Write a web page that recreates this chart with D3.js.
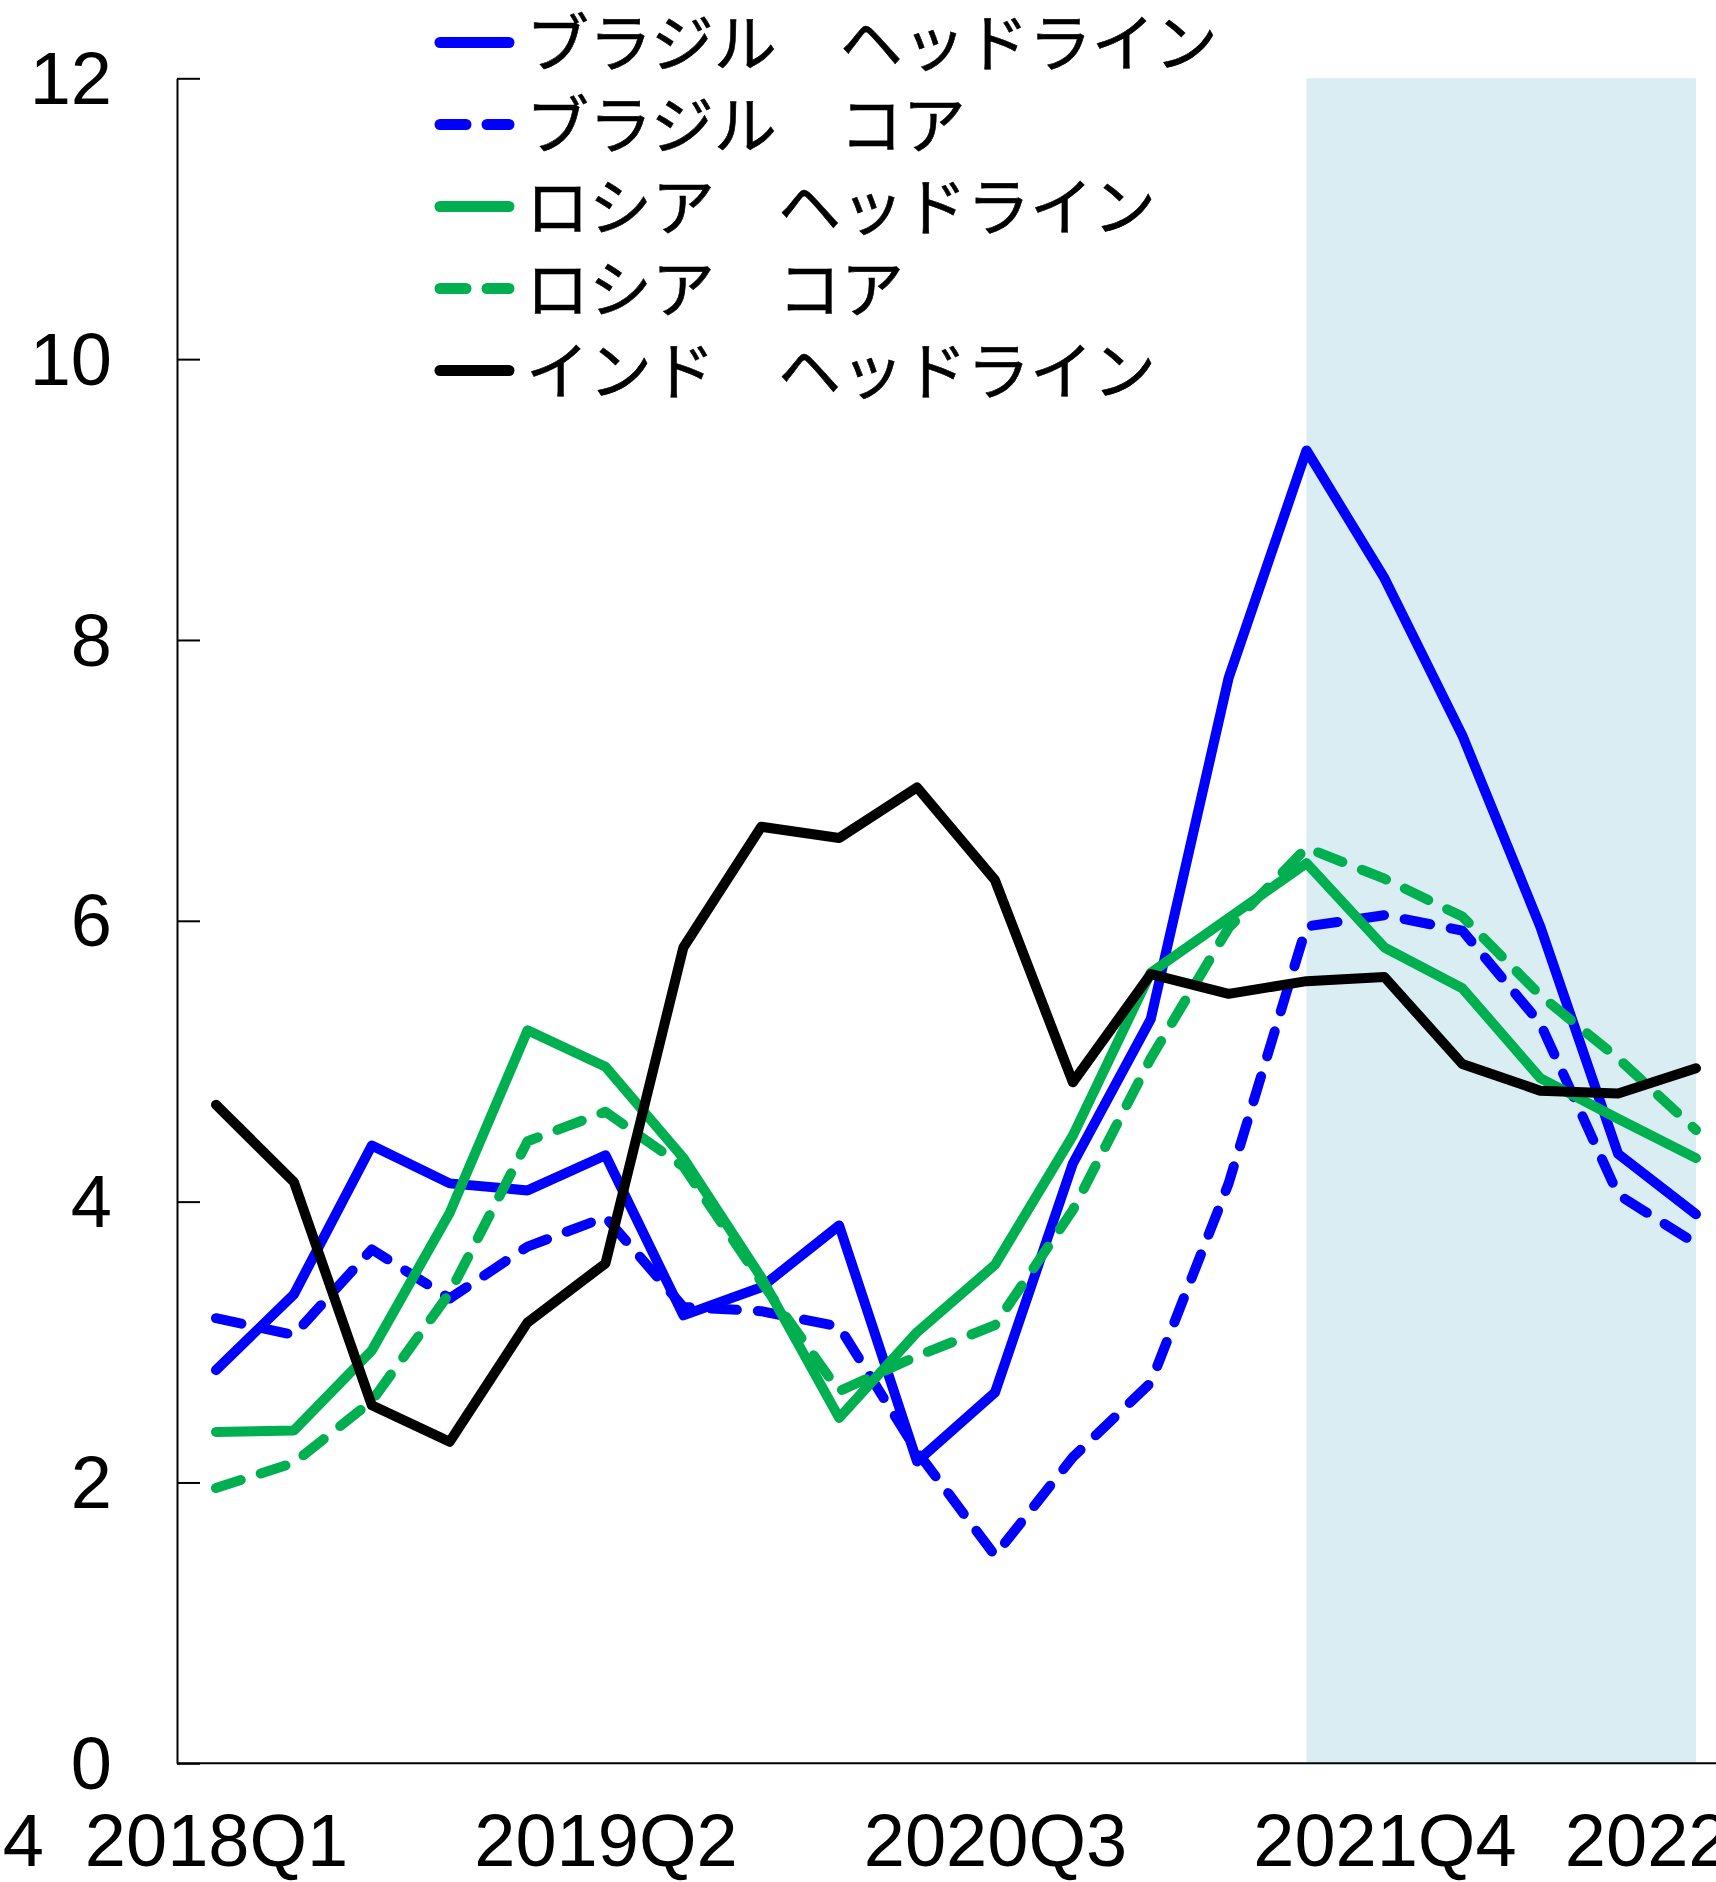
<!DOCTYPE html>
<html>
<head>
<meta charset="utf-8">
<script src="https://cdn.jsdelivr.net/npm/d3@7"></script>
<style>
  html, body { margin: 0; padding: 0; background: #ffffff; }
  svg { display: block; }
</style>
</head>
<body>
<svg id="chart" width="1716" height="1882"></svg>
<script>
// Quarterly inflation, year-on-year (%)
const categories = [
  "2018Q1","2018Q2","2018Q3","2018Q4",
  "2019Q1","2019Q2","2019Q3","2019Q4",
  "2020Q1","2020Q2","2020Q3","2020Q4",
  "2021Q1","2021Q2","2021Q3","2021Q4",
  "2022Q1","2022Q2","2022Q3","2022Q4"
];

const brazilHeadline = [2.80, 3.34, 4.40, 4.13, 4.08, 4.33, 3.19, 3.39, 3.83, 2.15,
                        2.64, 4.27, 5.30, 7.73, 9.35, 8.44, 7.32, 5.96, 4.34, 3.91];
const brazilCore     = [3.17, 3.05, 3.66, 3.31, 3.68, 3.89, 3.25, 3.22, 3.11, 2.22,
                        1.48, 2.18, 2.71, 4.13, 5.96, 6.04, 5.93, 5.27, 4.05, 3.70];
const russiaHeadline = [2.36, 2.37, 2.94, 3.92, 5.22, 4.96, 4.31, 3.46, 2.46, 3.07,
                        3.55, 4.47, 5.63, 6.02, 6.41, 5.81, 5.52, 4.88, 4.59, 4.31];
const russiaCore     = [1.96, 2.14, 2.58, 3.35, 4.43, 4.64, 4.25, 3.43, 2.65, 2.90,
                        3.12, 3.94, 5.02, 5.95, 6.52, 6.30, 6.03, 5.47, 5.02, 4.51];
const indiaHeadline  = [4.69, 4.14, 2.55, 2.29, 3.14, 3.56, 5.81, 6.67, 6.59, 6.95,
                        6.29, 4.85, 5.62, 5.48, 5.57, 5.60, 4.98, 4.79, 4.77, 4.95];

const seriesNames  = ["ブラジル　ヘッドライン", "ブラジル　コア", "ロシア　ヘッドライン", "ロシア　コア", "インド　ヘッドライン"];
const seriesValues = [brazilHeadline, brazilCore, russiaHeadline, russiaCore, indiaHeadline];
const seriesColors = ["#0000FF", "#0000FF", "#00B050", "#00B050", "#000000"];
const seriesDashed = [false, true, false, true, false];

const yTickValues  = [0, 2, 4, 6, 8, 10, 12];
const xTickLabels  = ["2018Q1", "2019Q2", "2020Q3", "2021Q4", "2022Q4"];
const shadedPeriod = ["2021Q3", "2022Q4"];
const spillLabel   = "2022Q4";   // label of the neighbouring panel reaching into the left edge

// ---- layout ----
const svg = d3.select("#chart");
const W = 1716, H = 1882;
const axisX = 177, yTop = 78.3, yBottom = 1763.3;
const labelBaseline = 1866;
const x = d3.scalePoint().domain(categories).range([216, 1696]);
const y = d3.scaleLinear().domain([0, 12]).range([yBottom, yTop]);

svg.append("rect").attr("width", W).attr("height", H).attr("fill", "#ffffff");

// shaded window
svg.append("rect")
  .attr("x", x(shadedPeriod[0]))
  .attr("y", y(12))
  .attr("width", x(shadedPeriod[1]) - x(shadedPeriod[0]))
  .attr("height", y(0) - y(12))
  .attr("fill", "#DAEDF3");

const numFont = "'Liberation Sans', Arial, sans-serif";
const jpFont = "'Noto Sans CJK JP', 'Noto Sans', sans-serif";

// y axis: ticks pointing into the plot
const yAxis = d3.axisLeft(y)
  .tickValues(yTickValues)
  .tickSize(-23)
  .tickSizeOuter(0)
  .tickPadding(65)
  .tickFormat(d3.format("d"));
const gy = svg.append("g").attr("transform", `translate(${axisX},0)`).call(yAxis);
gy.select(".domain").attr("stroke", "#000").attr("stroke-width", 2);
gy.selectAll(".tick line").attr("stroke", "#000").attr("stroke-width", 2);
gy.selectAll(".tick text")
  .attr("font-family", numFont)
  .attr("font-size", 74)
  .attr("fill", "#000")
  .attr("dy", "0.34em");

// x axis: baseline line plus labels every fifth quarter and the final one
svg.append("line")
  .attr("x1", axisX).attr("x2", W)
  .attr("y1", yBottom).attr("y2", yBottom)
  .attr("stroke", "#000").attr("stroke-width", 2);

const xAxis = d3.axisBottom(x)
  .tickValues(xTickLabels)
  .tickSize(0)
  .tickPadding(0);
const gx = svg.append("g").attr("transform", `translate(0,${yBottom})`).call(xAxis);
gx.select(".domain").remove();
gx.selectAll(".tick text")
  .attr("font-family", numFont)
  .attr("font-size", 74)
  .attr("fill", "#000")
  .attr("y", labelBaseline - yBottom)
  .attr("dy", null);

svg.append("text")
  .attr("x", 44).attr("y", labelBaseline)
  .attr("text-anchor", "end")
  .attr("font-family", numFont)
  .attr("font-size", 74)
  .attr("fill", "#000")
  .text(spillLabel);

// series lines
const line = d3.line()
  .x((d, i) => x(categories[i]))
  .y(d => y(d));

const dash = "26 21";
seriesValues.forEach((vals, k) => {
  svg.append("path")
    .datum(vals)
    .attr("d", line)
    .attr("fill", "none")
    .attr("stroke", seriesColors[k])
    .attr("stroke-width", 10)
    .attr("stroke-linejoin", "round")
    .attr("stroke-linecap", "round")
    .attr("stroke-dasharray", seriesDashed[k] ? dash : null);
});

// legend
const legendY0 = 42.5, legendStep = 82;
const legend = svg.append("g");
seriesNames.forEach((name, k) => {
  const ly = legendY0 + k * legendStep;
  legend.append("line")
    .attr("x1", 440).attr("x2", 509)
    .attr("y1", ly).attr("y2", ly)
    .attr("stroke", seriesColors[k])
    .attr("stroke-width", 11)
    .attr("stroke-linecap", "round")
    .attr("stroke-dasharray", seriesDashed[k] ? dash : null);
  legend.append("text")
    .attr("x", 526).attr("y", ly - 4.5)
    .attr("dominant-baseline", "central")
    .attr("font-family", jpFont)
    .attr("font-size", 63)
    .attr("fill", "#000")
    .attr("stroke", "#000")
    .attr("stroke-width", 0.6)
    .text(name);
});
</script>
</body>
</html>
